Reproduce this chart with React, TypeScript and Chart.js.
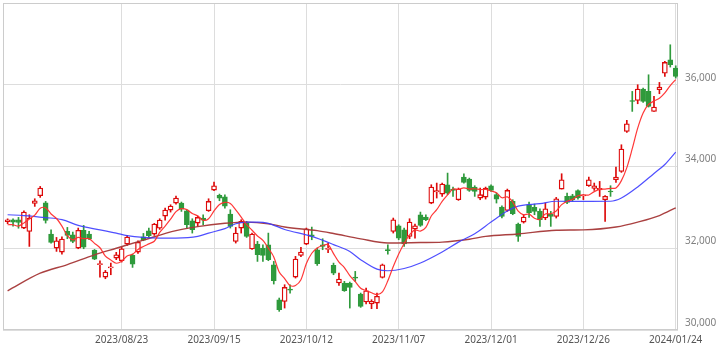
import React, { useEffect, useRef } from "react";
import { Chart, registerables } from "chart.js";
Chart.register(...registerables);

const dates = [
  "2023/07/24","2023/07/25","2023/07/26","2023/07/27","2023/07/28","2023/07/31",
  "2023/08/01","2023/08/02","2023/08/03","2023/08/04","2023/08/07","2023/08/08","2023/08/09","2023/08/10","2023/08/14","2023/08/15","2023/08/16","2023/08/17","2023/08/18","2023/08/21","2023/08/22","2023/08/23","2023/08/24","2023/08/25","2023/08/28","2023/08/29","2023/08/30","2023/08/31",
  "2023/09/01","2023/09/04","2023/09/05","2023/09/06","2023/09/07","2023/09/08","2023/09/11","2023/09/12","2023/09/13","2023/09/14","2023/09/15","2023/09/19","2023/09/20","2023/09/21","2023/09/22","2023/09/25","2023/09/26","2023/09/27","2023/09/28","2023/09/29",
  "2023/10/02","2023/10/03","2023/10/04","2023/10/05","2023/10/06","2023/10/10","2023/10/11","2023/10/12","2023/10/13","2023/10/16","2023/10/17","2023/10/18","2023/10/19","2023/10/20","2023/10/23","2023/10/24","2023/10/25","2023/10/26","2023/10/27","2023/10/30","2023/10/31",
  "2023/11/01","2023/11/02","2023/11/06","2023/11/07","2023/11/08","2023/11/09","2023/11/10","2023/11/13","2023/11/14","2023/11/15","2023/11/16","2023/11/17","2023/11/20","2023/11/21","2023/11/22","2023/11/24","2023/11/27","2023/11/28","2023/11/29","2023/11/30",
  "2023/12/01","2023/12/04","2023/12/05","2023/12/06","2023/12/07","2023/12/08","2023/12/11","2023/12/12","2023/12/13","2023/12/14","2023/12/15","2023/12/18","2023/12/19","2023/12/20","2023/12/21","2023/12/22","2023/12/25","2023/12/26","2023/12/27","2023/12/28","2023/12/29",
  "2024/01/04","2024/01/05","2024/01/09","2024/01/10","2024/01/11","2024/01/12","2024/01/15","2024/01/16","2024/01/17","2024/01/18","2024/01/19","2024/01/22","2024/01/23","2024/01/24",
];

const opens = [
  32650,32697,32697,32494,32412,33097,33284,33113,32347,32004,31907,32412,32330,32004,32437,32347,31955,31600,31295,31520,31760,31695,32102,31825,31907,32282,32428,32347,
  32493,32787,32934,33105,33105,32917,32673,32616,32738,32917,33423,33292,33260,32836,32168,32494,32616,31985,32102,32004,
  32086,31597,30741,30700,31000,31295,31825,32102,32330,31964,32086,31970,31580,31149,31149,31149,31290,30880,30684,30635,30659,
  31287,31960,32412,32551,32453,32290,32470,32820,32763,33105,33380,33326,33554,33448,33187,33741,33693,33497,33228,33252,
  33530,33310,33008,32926,33146,32592,32641,33060,33000,32902,32739,32837,32780,33448,33269,33285,33410,33280,33530,33465,33430,
  33187,33400,33676,33880,34859,35610,35617,35894,35837,35348,35878,36285,36611,36407,
];

const highs = [
  32720,32720,32755,32918,32820,33211,33513,33146,32453,32265,32282,32510,32396,32494,32559,32412,31970,31695,31458,31638,31900,32021,32314,31858,32184,32363,32494,32608,
  32722,32983,33064,33276,33130,32934,32722,32779,32820,33211,33619,33325,33309,32942,32510,32698,32657,32371,32168,32086,
  32371,31678,30782,31108,31108,31801,32021,32494,32518,32004,32233,32127,31637,31393,31190,31173,31434,30904,31027,30741,30904,
  31614,32086,32739,32575,32494,32722,32592,32885,32820,33554,33595,33595,33839,33497,33473,33823,33717,33530,33473,33497,
  33554,33350,33040,33448,33187,32616,32820,33130,33081,32967,33106,32902,33244,33823,33350,33320,33430,33310,33741,33595,33635,
  33290,33530,33986,34532,35128,35837,36000,35918,36244,35715,36057,36570,36978,36464,
];

const lows = [
  32600,32540,32490,32480,32045,33024,33244,32616,32127,31923,31858,32233,32135,31988,31988,32208,31720,31295,31254,31352,31720,31662,32070,31531,31874,32184,32265,32314,
  32461,32689,32885,33081,32901,32494,32371,32534,32575,32901,33407,33162,32983,32494,32127,32371,32265,31970,31678,31678,
  31695,31124,30456,30537,30904,31271,31793,32086,32208,31580,31964,31890,31352,31092,30945,30537,31190,30554,30635,30521,30521,
  31271,31858,32372,32208,32046,32233,32249,32535,32673,33089,33228,33269,33309,33269,33171,33595,33391,33269,33187,33203,
  33391,33106,32739,32902,32820,32168,32616,32755,32820,32535,32698,32535,32739,33448,33089,33150,33200,33190,33513,33415,33268,
  32657,33269,33611,33856,34834,35348,35535,35568,35454,35348,35780,36204,36432,36163,
];

const closes = [
  32695,32640,32630,32885,32738,33162,33472,32681,32143,32184,32224,32314,32168,32437,32029,32233,31735,31626,31417,31545,31841,31988,32273,31613,32143,32200,32306,32591,
  32689,32934,33032,33227,32958,32575,32453,32754,32689,33146,33529,33227,33030,32534,32371,32657,32290,32347,31841,31825,
  31719,31206,30496,31042,30975,31735,31907,32477,32290,31621,32045,32000,31393,31247,30961,31043,31270,30578,30961,30700,30823,
  31597,31940,32698,32249,32103,32641,32551,32559,32698,33497,33410,33570,33350,33415,33448,33611,33415,33391,33310,33473,
  33415,33203,32779,33415,32845,32290,32763,32870,32902,32698,32967,32780,33211,33676,33122,33187,33230,33300,33676,33530,33464,
  33269,33377,33741,34426,35046,35590,35894,35592,35470,35454,35943,36546,36489,36204,
];

// 5-day moving average (red), one value per day
const ma5 = [
  32575,32575,32540,32620,32718,32811,32977,32988,32839,32728,32541,32309,32207,32265,32234,32236,32120,32012,31808,31711,31633,31683,31813,31852,31972,32043,32107,32171,
  32386,32544,32710,32895,32968,32945,32849,32793,32686,32723,32914,33069,33124,33093,32938,32764,32576,32440,32301,32192,
  32004,31788,31417,31258,31088,31091,31231,31627,31877,32006,32068,32087,31870,31661,31529,31329,31183,31020,30963,30910,30866,
  30932,31204,31552,31861,32117,32326,32448,32421,32510,32789,32943,33147,33305,33448,33439,33479,33448,33456,33435,33440,
  33401,33358,33236,33257,33131,32906,32818,32837,32734,32705,32840,32843,32912,33066,33151,33195,33285,33303,33303,33385,33440,
  33448,33463,33476,33655,33972,34436,34939,35310,35518,35600,35671,35801,35980,36127,
];

// 25-day moving average (blue), read at these day indices
const ma25At = [0,3,7,10,13,17,20,22,25,28,31,35,37,40,42,44,46,48,51,56,60,63,65,68,70,73,76,80,83,86,89,92,94,98,101,106,111,113,116,119,121,123];
const ma25 = [32820,32800,32750,32700,32560,32450,32370,32310,32265,32250,32250,32290,32370,32480,32600,32640,32640,32610,32460,32290,32090,31920,31720,31490,31450,31505,31640,31910,32150,32355,32640,32910,33030,33090,33150,33146,33150,33230,33500,33830,34050,34350];

// 75-day moving average (brown), read at these day indices
const ma75At = [0,6,11,16,20,25,31,35,40,44,48,51,57,60,65,70,76,80,85,88,94,101,106,112,116,120,123];
const ma75 = [30960,31390,31600,31840,32000,32200,32430,32530,32610,32640,32600,32520,32430,32360,32230,32130,32140,32150,32220,32290,32350,32440,32450,32520,32640,32800,32990];

const xTickLabels = ["2023/08/23","2023/09/15","2023/10/12","2023/11/07","2023/12/01","2023/12/26","2024/01/24"];
const yTickValues = [30000, 32000, 34000, 36000];

const RED = "#dd0a0a";
const GREEN = "#2f9a3c";

const framePlugin = {
  id: "frame",
  beforeDatasetsDraw(chart: any) {
    const { ctx, chartArea } = chart;
    const l = Math.round(chartArea.left) + 0.5;
    const t = Math.round(chartArea.top) + 0.5;
    const r = Math.round(chartArea.right) - 0.5;
    const b = Math.round(chartArea.bottom) - 0.5;
    ctx.save();
    ctx.strokeStyle = "#cccccc";
    ctx.lineWidth = 1;
    ctx.strokeRect(l, t, r - l, b - t);
    ctx.restore();
  },
};

export default function App() {
  const ref = useRef<HTMLCanvasElement>(null);

  useEffect(() => {
    document.body.style.margin = "0";
    const idx = dates.map((_, i) => i);
    const up = idx.map((i) => closes[i] >= opens[i]);
    const tickIdx = xTickLabels.map((d) => dates.indexOf(d));

    const chart = new Chart(ref.current as HTMLCanvasElement, {
      type: "bar",
      data: {
        datasets: [
          {
            type: "line",
            label: "MA5",
            data: ma5.map((v, i) => ({ x: i, y: v })),
            borderColor: "rgba(255,45,45,0.95)",
            borderWidth: 1.2,
            pointRadius: 0,
            tension: 0.3,
            order: 0,
          } as any,
          {
            type: "line",
            label: "MA25",
            data: ma25At.map((x, k) => ({ x, y: ma25[k] })),
            borderColor: "rgba(60,60,255,0.9)",
            borderWidth: 1.2,
            pointRadius: 0,
            cubicInterpolationMode: "monotone",
            order: 0,
          } as any,
          {
            type: "line",
            label: "MA75",
            data: ma75At.map((x, k) => ({ x, y: ma75[k] })),
            borderColor: "rgba(165,55,55,0.95)",
            borderWidth: 1.4,
            pointRadius: 0,
            cubicInterpolationMode: "monotone",
            order: 0,
          } as any,
          {
            label: "body",
            data: idx.map((i) => ({ x: i, y: [Math.min(opens[i], closes[i]), Math.max(opens[i], closes[i])] })),
            backgroundColor: idx.map((i) => (up[i] ? "#ffffff" : GREEN)),
            borderColor: idx.map((i) => (up[i] ? RED : GREEN)),
            borderWidth: 1.3,
            borderSkipped: false,
            barThickness: 5,
            minBarLength: 1,
            grouped: false,
            order: 1,
          } as any,
          {
            label: "wick",
            data: idx.map((i) => ({ x: i, y: [lows[i], highs[i]] })),
            backgroundColor: idx.map((i) => (up[i] ? RED : GREEN)),
            borderWidth: 0,
            barThickness: 1,
            grouped: false,
            order: 2,
          } as any,
        ],
      },
      options: {
        responsive: false,
        animation: false,
        devicePixelRatio: 1,
        layout: { padding: { left: 3, top: 3, right: 0, bottom: 0 } },
        plugins: { legend: { display: false }, tooltip: { enabled: false } },
        scales: {
          x: {
            type: "linear",
            offset: false,
            min: -0.85,
            max: 123.42,
            afterBuildTicks: (s: any) => {
              s.ticks = tickIdx.map((v) => ({ value: v }));
            },
            afterFit: (s: any) => {
              s.height = 21;
              s.paddingLeft = 0;
              s.paddingRight = 0;
            },
            ticks: {
              autoSkip: false,
              maxRotation: 0,
              padding: 4,
              color: "#555555",
              font: { family: "'Noto Sans', sans-serif", size: 10 },
              callback: (v: any) => dates[Math.round(Number(v))] ?? "",
            },
            grid: { color: "#dddddd", drawTicks: false, offset: false },
            border: { display: false },
          },
          y: {
            type: "linear",
            position: "right",
            min: 30000,
            max: 38000,
            afterBuildTicks: (s: any) => {
              s.ticks = yTickValues.concat([38000]).map((v) => ({ value: v }));
            },
            afterFit: (s: any) => {
              s.width = 42;
              s.paddingTop = 0;
              s.paddingBottom = 0;
            },
            ticks: {
              padding: 7,
              labelOffset: -7,
              color: "#808080",
              font: { family: "'Noto Sans', sans-serif", size: 10 },
              callback: (v: any) => (yTickValues.includes(Number(v)) ? Number(v).toLocaleString("en-US") : ""),
            },
            grid: { color: "#dddddd", drawTicks: false },
            border: { display: false },
          },
        },
      },
      plugins: [framePlugin],
    });
    return () => chart.destroy();
  }, []);

  return (
    <div style={{ position: "absolute", left: 0, top: 0, width: 720, height: 351 }}>
      <canvas ref={ref} width={720} height={351} style={{ width: 720, height: 351 }} />
    </div>
  );
}
